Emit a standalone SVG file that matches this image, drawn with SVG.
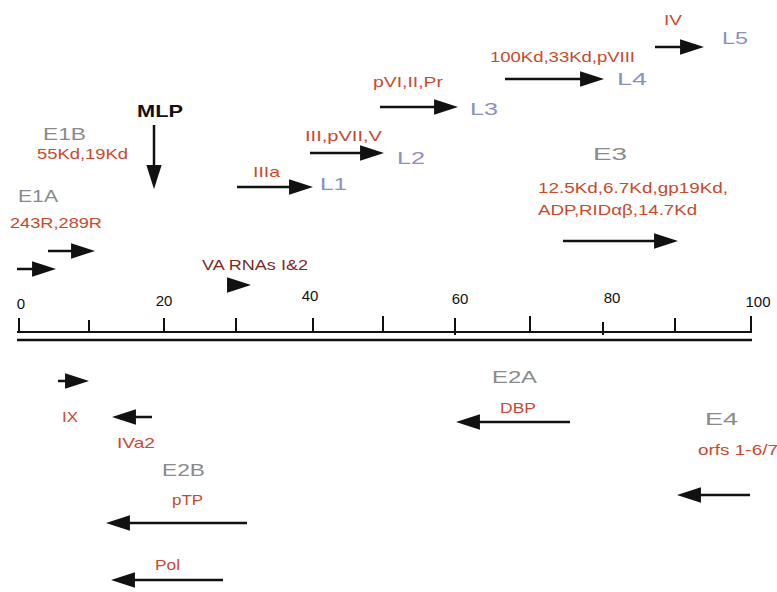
<svg xmlns="http://www.w3.org/2000/svg" width="777" height="592" viewBox="0 0 777 592">
<defs>
<marker id="ah" markerUnits="userSpaceOnUse" markerWidth="24" markerHeight="16" refX="10" refY="7" orient="auto" viewBox="0 0 22 14">
<path d="M0,0 L22,7 L0,14 z" fill="#111"/>
</marker>
<style>
text{font-family:"Liberation Sans",Arial,sans-serif;}
.g{fill:#8a8a8a;font-size:17px;}
.l{fill:#8a8fc4;font-size:17px;}
.r{fill:#c9492e;font-size:15px;}
.d{fill:#7a2a22;font-size:15px;}
.n{fill:#111;font-size:15px;}
.a{stroke:#111;stroke-width:2.5;fill:none;marker-end:url(#ah);}
.ax{stroke:#111;stroke-width:2;fill:none;}
</style>
</defs>
<rect width="777" height="592" fill="#fff"/>

<g id="axis">
<line class="ax" x1="17" y1="332" x2="752" y2="332"/>
<line x1="17" y1="340" x2="752" y2="340" stroke="#111" stroke-width="2.5"/>
<path class="ax" d="M19,318V332 M89,320V332 M164,318V332 M236,318V332 M313,318V332 M383,316V332 M455,318V335 M530,316V332 M603,322V335 M675,318V332 M751,316V332"/>
<text class="n" x="21" y="309" text-anchor="middle">0</text>
<text class="n" x="164" y="306" text-anchor="middle">20</text>
<text class="n" x="310" y="301" text-anchor="middle">40</text>
<text class="n" x="460" y="304" text-anchor="middle">60</text>
<text class="n" x="612" y="303" text-anchor="middle">80</text>
<text class="n" x="758" y="307" text-anchor="middle">100</text>
</g>

<g id="connectors">
<line class="a" x1="17" y1="269" x2="43" y2="269"/>
<line class="a" x1="48" y1="251" x2="82" y2="251"/>
<line class="a" x1="154" y1="125" x2="154" y2="176"/>
<line class="a" x1="227" y1="285" x2="238" y2="285"/>
<line class="a" x1="237" y1="187" x2="300" y2="187"/>
<line class="a" x1="310" y1="153" x2="371" y2="153"/>
<line class="a" x1="380" y1="107" x2="445" y2="107"/>
<line class="a" x1="505" y1="79" x2="591" y2="79"/>
<line class="a" x1="655" y1="47" x2="691" y2="47"/>
<line class="a" x1="563" y1="241" x2="665" y2="241"/>
<line class="a" x1="58" y1="381" x2="76" y2="381"/>
<line class="a" x1="152" y1="417" x2="125" y2="417"/>
<line class="a" x1="247" y1="523" x2="119" y2="523"/>
<line class="a" x1="223" y1="580" x2="124" y2="580"/>
<line class="a" x1="570" y1="422" x2="469" y2="422"/>
<line class="a" x1="750" y1="495" x2="690" y2="495"/>
</g>

<g id="E1A">
<text class="g" x="18" y="202" textLength="40" lengthAdjust="spacingAndGlyphs">E1A</text>
<text class="r" x="10" y="228" textLength="92" lengthAdjust="spacingAndGlyphs">243R,289R</text>
</g>
<g id="E1B">
<text class="g" x="43" y="140" textLength="43" lengthAdjust="spacingAndGlyphs">E1B</text>
<text class="r" x="37" y="159" textLength="91" lengthAdjust="spacingAndGlyphs">55Kd,19Kd</text>
</g>
<g id="MLP">
<text x="137" y="117" font-size="17" font-weight="bold" fill="#111" textLength="46" lengthAdjust="spacingAndGlyphs">MLP</text>
</g>
<g id="VA">
<text class="d" x="202" y="270" textLength="106" lengthAdjust="spacingAndGlyphs">VA RNAs I&amp;2</text>
</g>
<g id="L1">
<text class="r" x="253" y="177" textLength="27" lengthAdjust="spacingAndGlyphs">IIIa</text>
<text class="l" x="320" y="190" textLength="27" lengthAdjust="spacingAndGlyphs">L1</text>
</g>
<g id="L2">
<text class="r" x="305" y="141" textLength="77" lengthAdjust="spacingAndGlyphs">III,pVII,V</text>
<text class="l" x="397" y="164" textLength="28" lengthAdjust="spacingAndGlyphs">L2</text>
</g>
<g id="L3">
<text class="r" x="373" y="87" textLength="70" lengthAdjust="spacingAndGlyphs">pVI,II,Pr</text>
<text class="l" x="470" y="115" textLength="28" lengthAdjust="spacingAndGlyphs">L3</text>
</g>
<g id="L4">
<text class="r" x="490" y="62" textLength="145" lengthAdjust="spacingAndGlyphs">100Kd,33Kd,pVIII</text>
<text class="l" x="617" y="85" textLength="30" lengthAdjust="spacingAndGlyphs">L4</text>
</g>
<g id="L5">
<text class="r" x="664" y="25" textLength="18" lengthAdjust="spacingAndGlyphs">IV</text>
<text class="l" x="722" y="44" textLength="26" lengthAdjust="spacingAndGlyphs">L5</text>
</g>
<g id="E3">
<text class="g" x="593" y="160" textLength="34" lengthAdjust="spacingAndGlyphs">E3</text>
<text class="r" x="538" y="193" textLength="190" lengthAdjust="spacingAndGlyphs">12.5Kd,6.7Kd,gp19Kd,</text>
<text class="r" x="538" y="215" textLength="159" lengthAdjust="spacingAndGlyphs">ADP,RIDαβ,14.7Kd</text>
</g>
<g id="IX">
<text class="r" x="62" y="422" textLength="16" lengthAdjust="spacingAndGlyphs">IX</text>
</g>
<g id="IVa2">
<text class="r" x="117" y="448" textLength="38" lengthAdjust="spacingAndGlyphs">IVa2</text>
</g>
<g id="E2B">
<text class="g" x="162" y="476" textLength="43" lengthAdjust="spacingAndGlyphs">E2B</text>
<text class="r" x="172" y="505" textLength="31" lengthAdjust="spacingAndGlyphs">pTP</text>
<text class="r" x="155" y="570" textLength="25" lengthAdjust="spacingAndGlyphs">Pol</text>
</g>
<g id="E2A">
<text class="g" x="492" y="383" textLength="45" lengthAdjust="spacingAndGlyphs">E2A</text>
<text class="r" x="500" y="413" textLength="36" lengthAdjust="spacingAndGlyphs">DBP</text>
</g>
<g id="E4">
<text class="g" x="705" y="425" textLength="33" lengthAdjust="spacingAndGlyphs">E4</text>
<text class="r" x="698" y="455" textLength="80" lengthAdjust="spacingAndGlyphs">orfs 1-6/7</text>
</g>
</svg>
